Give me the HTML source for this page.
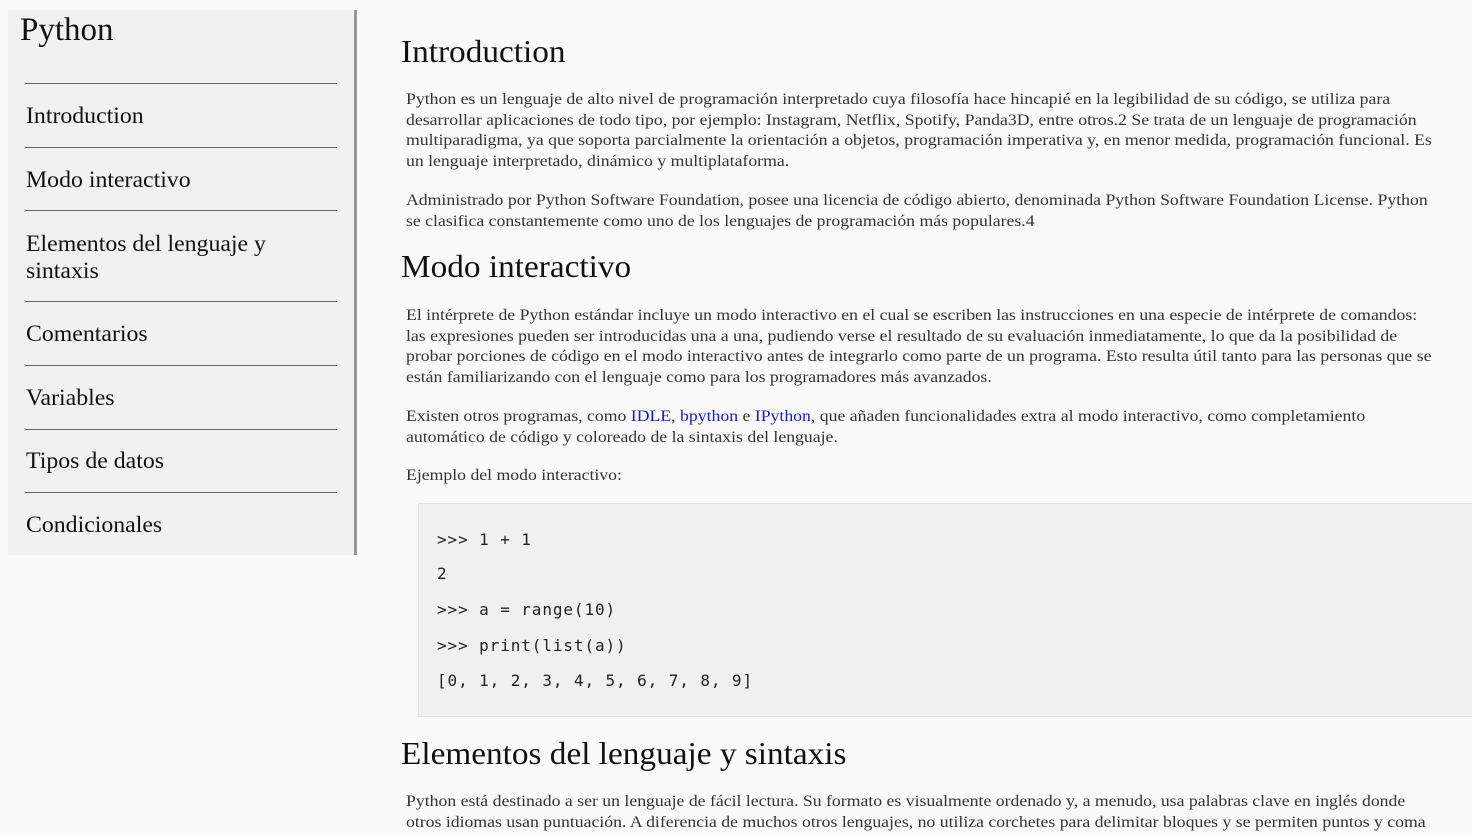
<!DOCTYPE html>
<html><head><meta charset="utf-8"><style>
html,body{margin:0;padding:0;background:#fafafa;width:1472px;height:821px;overflow:hidden;font-family:"Liberation Serif",serif;}
.a{position:absolute;white-space:nowrap}
#side{position:absolute;left:8px;top:10px;width:346px;height:545px;background:#f1f1f1;border-right:3px solid #999}
.ln{position:absolute;left:25px;width:312px;height:0;border-top:1.5px solid #666}
.nav{position:absolute;left:26px;font-size:23px;color:#111;line-height:27px;transform:scaleX(1.035);transform-origin:0 0;white-space:nowrap}
h2{position:absolute;left:401px;margin:0;font-weight:normal;font-size:32px;line-height:36px;color:#111;white-space:nowrap;transform:scaleX(1.04);transform-origin:0 0}
.p{position:absolute;left:406px;font-size:16px;line-height:20.7px;color:#333;white-space:nowrap;transform:scaleX(1.107);transform-origin:0 0}
a{color:#1a1ad6;text-decoration:none}
#code{position:absolute;left:418px;top:503px;width:1060px;height:212px;background:#f0f0f0;border:1px solid #e2e2e2}
.c{position:absolute;left:437px;font-family:"DejaVu Sans Mono","Liberation Mono",monospace;font-size:16px;color:#222;line-height:20px;white-space:pre;letter-spacing:0.9px}
</style></head><body>
<div id="side"></div>
<div class="a" style="left:20px;top:11px;font-size:33px;line-height:38px;color:#111">Python</div>
<div class="ln" style="top:83px"></div>
<div class="nav" style="top:102px">Introduction</div>
<div class="ln" style="top:147px"></div>
<div class="nav" style="top:166px">Modo interactivo</div>
<div class="ln" style="top:210px"></div>
<div class="nav" style="top:230px">Elementos del lenguaje y<br>sintaxis</div>
<div class="ln" style="top:301px"></div>
<div class="nav" style="top:320px">Comentarios</div>
<div class="ln" style="top:365px"></div>
<div class="nav" style="top:384px">Variables</div>
<div class="ln" style="top:429px"></div>
<div class="nav" style="top:447px">Tipos de datos</div>
<div class="ln" style="top:492px"></div>
<div class="nav" style="top:511px">Condicionales</div>

<h2 style="top:33px">Introduction</h2>
<div class="p" style="top:90px">Python es un lenguaje de alto nivel de programación interpretado cuya filosofía hace hincapié en la legibilidad de su código, se utiliza para<br>desarrollar aplicaciones de todo tipo, por ejemplo: Instagram, Netflix, Spotify, Panda3D, entre otros.2 Se trata de un lenguaje de programación<br>multiparadigma, ya que soporta parcialmente la orientación a objetos, programación imperativa y, en menor medida, programación funcional. Es<br>un lenguaje interpretado, dinámico y multiplataforma.</div>
<div class="p" style="top:191px">Administrado por Python Software Foundation, posee una licencia de código abierto, denominada Python Software Foundation License. Python<br>se clasifica constantemente como uno de los lenguajes de programación más populares.4</div>

<h2 style="top:248px">Modo interactivo</h2>
<div class="p" style="top:306px">El intérprete de Python estándar incluye un modo interactivo en el cual se escriben las instrucciones en una especie de intérprete de comandos:<br>las expresiones pueden ser introducidas una a una, pudiendo verse el resultado de su evaluación inmediatamente, lo que da la posibilidad de<br>probar porciones de código en el modo interactivo antes de integrarlo como parte de un programa. Esto resulta útil tanto para las personas que se<br>están familiarizando con el lenguaje como para los programadores más avanzados.</div>
<div class="p" style="top:407px">Existen otros programas, como <a>IDLE</a>, <a>bpython</a> e <a>IPython</a>, que añaden funcionalidades extra al modo interactivo, como completamiento<br>automático de código y coloreado de la sintaxis del lenguaje.</div>
<div class="p" style="top:466px">Ejemplo del modo interactivo:</div>

<div id="code"></div>
<div class="c" style="top:530px">&gt;&gt;&gt; 1 + 1</div>
<div class="c" style="top:564px">2</div>
<div class="c" style="top:600px">&gt;&gt;&gt; a = range(10)</div>
<div class="c" style="top:636px">&gt;&gt;&gt; print(list(a))</div>
<div class="c" style="top:671px">[0, 1, 2, 3, 4, 5, 6, 7, 8, 9]</div>

<h2 style="top:735px">Elementos del lenguaje y sintaxis</h2>
<div class="p" style="top:792px">Python está destinado a ser un lenguaje de fácil lectura. Su formato es visualmente ordenado y, a menudo, usa palabras clave en inglés donde<br>otros idiomas usan puntuación. A diferencia de muchos otros lenguajes, no utiliza corchetes para delimitar bloques y se permiten puntos y coma</div>
</body></html>
